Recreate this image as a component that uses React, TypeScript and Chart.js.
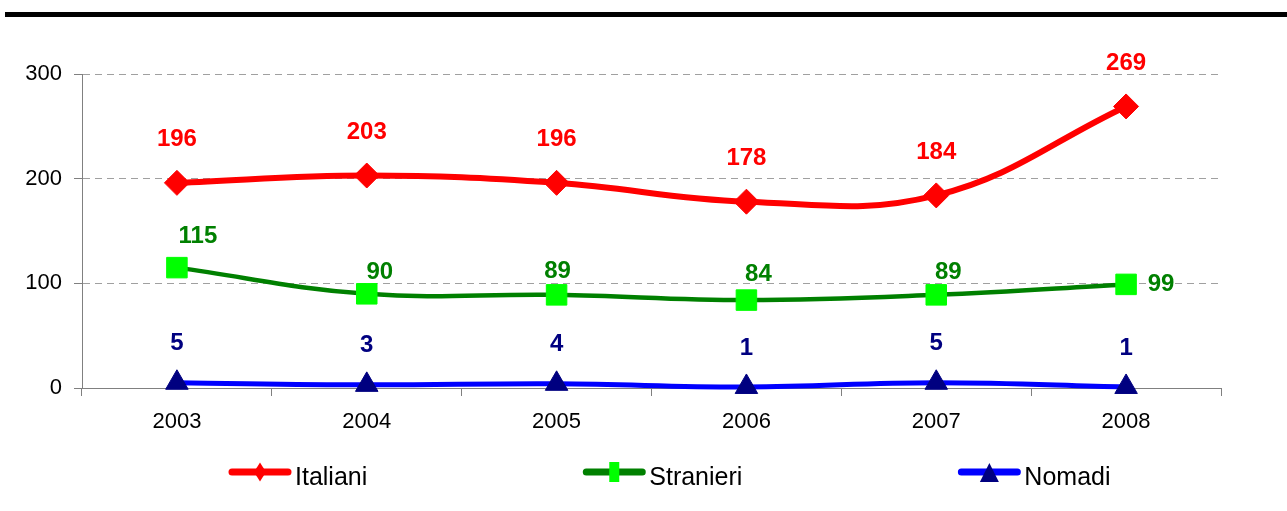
import React, { useEffect, useRef } from "react";
import { Chart, registerables } from "chart.js";

Chart.register(...registerables);

// ---- data ----
const years = ["2003", "2004", "2005", "2006", "2007", "2008"];
const italiani = [196, 203, 196, 178, 184, 269];
const stranieri = [115, 90, 89, 84, 89, 99];
const nomadi = [5, 3, 4, 1, 5, 1];
const seriesNames = ["Italiani", "Stranieri", "Nomadi"];
const yMin = 0;
const yMax = 300;
const yStep = 100;

// ---- label placement (style, not data) ----
const italianiLabelShift = [[0, -43], [0, -43], [0, -43], [0, -43], [0, -43], [0, -43]];
const stranieriLabelShift = [[21, -31], [13, -21], [1, -23], [12, -26], [12, -22], [35, 0]];
const nomadiLabelShift = [[0, -39], [0, -39], [0, -39], [0, -39], [0, -39], [0, -39]];

const FONT = "'Liberation Sans', Arial, sans-serif";

const topBarPlugin = {
  id: "topBar",
  beforeDraw(chart: any) {
    const ctx = chart.ctx;
    ctx.save();
    ctx.fillStyle = "#000000";
    ctx.fillRect(5, 12, chart.width - 5, 5);
    ctx.restore();
  },
};

const dataLabelPlugin = {
  id: "dataLabels",
  afterDatasetsDraw(chart: any) {
    const ctx = chart.ctx;
    ctx.save();
    ctx.font = `bold 24px ${FONT}`;
    ctx.textAlign = "center";
    ctx.textBaseline = "middle";
    chart.data.datasets.forEach((ds: any, i: number) => {
      const meta = chart.getDatasetMeta(i);
      ctx.fillStyle = ds.labelColor;
      meta.data.forEach((pt: any, j: number) => {
        const off = ds.labelShift[j];
        ctx.fillText(String(ds.data[j]), pt.x + off[0], pt.y + off[1]);
      });
    });
    ctx.restore();
  },
};

const legendPlugin = {
  id: "customLegend",
  afterDraw(chart: any) {
    const ctx = chart.ctx;
    ctx.save();
    ctx.font = `25px ${FONT}`;
    const cy = 472;
    const lineLen = 62;
    const textGap = 4;
    const itemGap = 216;
    let x = 229;
    chart.data.datasets.forEach((ds: any) => {
      ctx.strokeStyle = ds.borderColor;
      ctx.lineWidth = 7;
      ctx.lineCap = "round";
      ctx.beginPath();
      ctx.moveTo(x + 3, cy);
      ctx.lineTo(x + lineLen - 3, cy);
      ctx.stroke();
      const mx = x + lineLen / 2;
      ctx.fillStyle = ds.pointBackgroundColor;
      ctx.beginPath();
      if (ds.legendMarker === "diamond") {
        ctx.moveTo(mx, cy - 9.5);
        ctx.lineTo(mx + 6, cy);
        ctx.lineTo(mx, cy + 9.5);
        ctx.lineTo(mx - 6, cy);
        ctx.closePath();
      } else if (ds.legendMarker === "square") {
        ctx.rect(mx - 5, cy - 10, 10, 20);
      } else {
        ctx.moveTo(mx, cy - 9);
        ctx.lineTo(mx + 9.5, cy + 10);
        ctx.lineTo(mx - 9.5, cy + 10);
        ctx.closePath();
      }
      ctx.fill();
      ctx.fillStyle = "#000000";
      ctx.textAlign = "left";
      ctx.textBaseline = "alphabetic";
      const tx = x + lineLen + textGap;
      ctx.fillText(ds.label, tx, cy + 13);
      x = tx + ctx.measureText(ds.label).width + itemGap;
    });
    ctx.restore();
  },
};

export default function App() {
  const ref = useRef<HTMLCanvasElement | null>(null);

  useEffect(() => {
    document.body.style.margin = "0";
    const canvas = ref.current!;
    const chart = new Chart(canvas, {
      type: "line",
      data: {
        labels: years,
        datasets: [
          {
            label: seriesNames[0],
            data: italiani,
            borderColor: "#FF0000",
            borderWidth: 6,
            pointStyle: "rectRot",
            pointRadius: 12.5,
            pointBackgroundColor: "#FF0000",
            pointBorderColor: "#FF0000",
            pointBorderWidth: 1,
            tension: 0.4,
            clip: false,
            labelColor: "#FF0000",
            labelShift: italianiLabelShift,
            legendMarker: "diamond",
          } as any,
          {
            label: seriesNames[1],
            data: stranieri,
            borderColor: "#008000",
            borderWidth: 4.5,
            pointStyle: "rect",
            pointRadius: 14.5,
            pointBackgroundColor: "#00FF00",
            pointBorderColor: "#00FF00",
            pointBorderWidth: 1,
            tension: 0.4,
            clip: false,
            labelColor: "#008000",
            labelShift: stranieriLabelShift,
            legendMarker: "square",
          } as any,
          {
            label: seriesNames[2],
            data: nomadi,
            borderColor: "#0000FF",
            borderWidth: 5,
            pointStyle: "triangle",
            pointRadius: 13,
            pointBackgroundColor: "#000080",
            pointBorderColor: "#000080",
            pointBorderWidth: 1,
            tension: 0.4,
            clip: false,
            labelColor: "#000080",
            labelShift: nomadiLabelShift,
            legendMarker: "triangle",
          } as any,
        ],
      },
      options: {
        responsive: false,
        animation: false,
        devicePixelRatio: 1,
        layout: { padding: { left: 0, right: 66, top: 74, bottom: 0 } },
        plugins: {
          legend: { display: false },
          tooltip: { enabled: false },
        },
        scales: {
          x: {
            offset: true,
            grid: {
              offset: true,
              drawOnChartArea: false,
              drawTicks: true,
              tickLength: 8,
              tickColor: "#808080",
              tickWidth: 1,
            },
            border: { display: true, color: "#808080", width: 1 },
            ticks: {
              color: "#000000",
              font: { family: FONT, size: 22 },
              padding: 13,
              maxRotation: 0,
              autoSkip: false,
            },
            afterFit(scale: any) {
              scale.height = 123;
            },
          },
          y: {
            min: yMin,
            max: yMax,
            grid: {
              color: "#A0A0A0",
              lineWidth: 1,
              drawTicks: true,
              tickLength: 8,
              tickColor: "#808080",
              tickBorderDash: [],
            },
            border: { display: true, color: "#808080", width: 1, dash: [7, 5] },
            ticks: {
              stepSize: yStep,
              color: "#000000",
              font: { family: FONT, size: 22 },
              padding: 12,
            },
            afterFit(scale: any) {
              scale.width = 82;
            },
          },
        },
      },
      plugins: [topBarPlugin, dataLabelPlugin, legendPlugin],
    } as any);
    return () => chart.destroy();
  }, []);

  return (
    <canvas
      ref={ref}
      width={1287}
      height={511}
      style={{ display: "block", width: 1287, height: 511 }}
    />
  );
}
